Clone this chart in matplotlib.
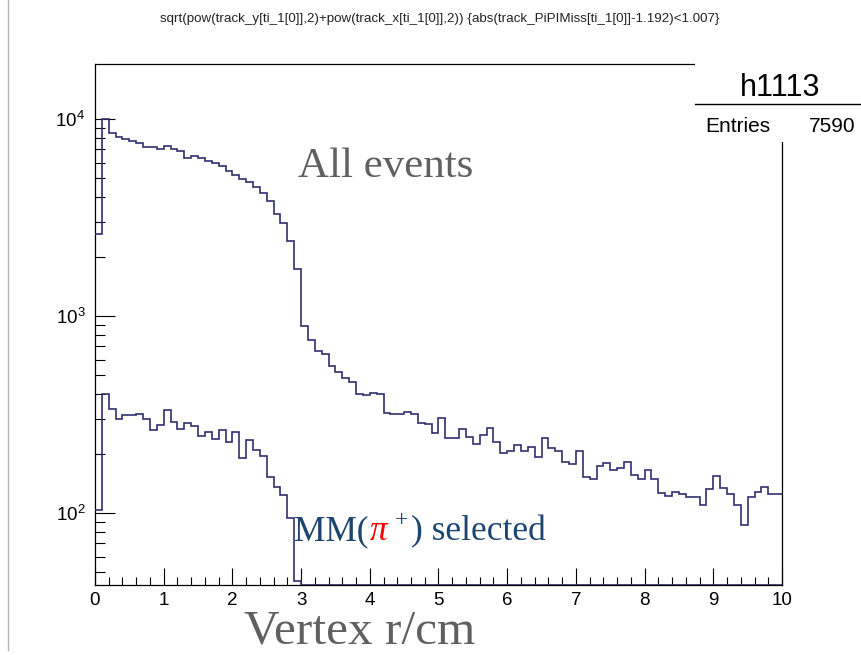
import numpy as np
import matplotlib
matplotlib.use('Agg')
import matplotlib.pyplot as plt
from matplotlib.patches import Rectangle
from matplotlib.lines import Line2D
from matplotlib.ticker import MultipleLocator, LogLocator, NullFormatter

plt.rcParams['font.family'] = ['Liberation Sans', 'DejaVu Sans']
plt.rcParams['mathtext.fontset'] = 'custom'
plt.rcParams['mathtext.rm'] = 'Liberation Sans'

# Histogram contents, 100 bins of 0.1 cm from 0 to 10 cm
bin_edges = np.linspace(0, 10, 101)

all_events = [
    2600, 10000, 8460, 8070, 7880, 7700, 7530, 7180, 7180, 7010,
    7300, 7010, 6850, 6300, 6490, 6300, 6140, 5960, 5770, 5420,
    5170, 4970, 4790, 4530, 4220, 3820, 3290, 2950, 2410, 1730,
    890, 750, 660, 641, 558, 520, 481, 459, 402, 396,
    408, 402, 323, 318, 316, 326, 318, 285, 281, 254,
    303, 240, 240, 266, 244, 224, 248, 270, 228, 201,
    207, 220, 207, 217, 193, 240, 214, 206, 181, 176,
    206, 152, 149, 172, 179, 164, 168, 181, 156, 149,
    164, 149, 126, 122, 127, 125, 120, 120, 110, 132,
    154, 134, 124, 109, 87, 121, 127, 136, 125, 125,
]

mm_selected = [
    103, 402, 338, 299, 315, 312, 318, 301, 262, 279,
    333, 290, 266, 285, 276, 245, 257, 238, 262, 228,
    257, 190, 235, 209, 195, 152, 136, 123, 94, 45,
] + [0] * 70

n_entries = 7590
hist_name = 'h1113'
title = ('sqrt(pow(track_y[ti_1[0]],2)+pow(track_x[ti_1[0]],2)) '
         '{abs(track_PiPIMiss[ti_1[0]]-1.192)<1.007}')

y_min, y_max = 43, 19000
W, H = 862, 655


def fx(px):
    return px / W


def fy(py):
    return 1 - py / H


fig = plt.figure(figsize=(W / 100, H / 100), dpi=100, facecolor='white')
ax = fig.add_axes([fx(95), fy(585), fx(782 - 95), (585 - 64) / H])

line_col = '#30306e'
# empty bins sit on the floor of the log axis, like ROOT draws them
for vals in (all_events, mm_selected):
    v = np.maximum(np.asarray(vals, dtype=float), y_min)
    ax.stairs(v, bin_edges, baseline=None, color=line_col, lw=1.2, zorder=3)

ax.set_yscale('log')
ax.set_xlim(0, 10)
ax.set_ylim(y_min, y_max)

ax.xaxis.set_major_locator(MultipleLocator(1))
ax.xaxis.set_minor_locator(MultipleLocator(0.2))
ax.yaxis.set_major_locator(LogLocator(base=10))
ax.yaxis.set_minor_locator(LogLocator(base=10, subs=np.arange(2, 10)))
ax.yaxis.set_minor_formatter(NullFormatter())

ax.tick_params(axis='x', which='major', direction='in', length=12, width=0.8,
               labelsize=13.5, pad=5, top=False)
ax.tick_params(axis='x', which='minor', direction='in', length=6, width=0.8, top=False)
ax.tick_params(axis='y', which='major', direction='in', length=14.4, width=0.8,
               labelsize=13.5, pad=7, right=False)
ax.tick_params(axis='y', which='minor', direction='in', length=7.2, width=0.8, right=False)
for sp in ax.spines.values():
    sp.set_linewidth(0.9)

# title line above the pad
fig.text(fx(440), fy(19), title, ha='center', va='center', fontsize=9.6, color='#222222')

# stats box in the top-right corner
fig.add_artist(Rectangle((fx(695), fy(142)), 1 - fx(695), (142 - 50) / H,
                         transform=fig.transFigure, facecolor='white',
                         edgecolor='none', zorder=5))
fig.text(fx(780), fy(96), hist_name, ha='center', va='baseline', fontsize=22, zorder=6)
fig.add_artist(Line2D([fx(695), 1], [fy(104), fy(104)], transform=fig.transFigure,
                      color='black', lw=1.0, zorder=6))
fig.text(fx(705), fy(132), 'Entries', ha='left', va='baseline', fontsize=15, zorder=6)
fig.text(fx(856), fy(132), str(n_entries), ha='right', va='baseline', fontsize=15, zorder=6)

# thin separator on the far left
fig.add_artist(Line2D([fx(8), fx(8)], [1, fy(650)], transform=fig.transFigure,
                      color='#b5b5b5', lw=1.0))

serif = ['Liberation Serif', 'DejaVu Serif']
grey = '#606060'
blue = '#1d4570'

fig.text(fx(298), fy(177), 'All events', family=serif, fontsize=31, color=grey,
         va='baseline', zorder=6)
fig.text(fx(244), fy(643), 'Vertex r/cm', family=serif, fontsize=35.5, color=grey,
         va='baseline', zorder=6)

t1 = fig.text(fx(294), fy(540), 'MM(', family=serif, fontsize=25.5, color=blue,
              va='baseline', zorder=6)
t2 = ax.annotate('\u03c0', xy=(1, 0), xycoords=t1, xytext=(1, 0),
                 textcoords='offset points', va='bottom', ha='left',
                 family=serif, fontsize=25.5, color='red', style='italic',
                 annotation_clip=False, zorder=6)
t3 = ax.annotate('+', xy=(1, 0.5), xycoords=t2, xytext=(5, 0),
                 textcoords='offset points', va='bottom', ha='left',
                 family=serif, fontsize=17, color=blue, annotation_clip=False, zorder=6)
ax.annotate(') selected', xy=(1, 0), xycoords=(t3, t2), xytext=(2, 0),
            textcoords='offset points', va='bottom', ha='left',
            family=serif, fontsize=25.5, color=blue, annotation_clip=False, zorder=6)

fig.savefig('out.png', dpi=100, facecolor='white')
